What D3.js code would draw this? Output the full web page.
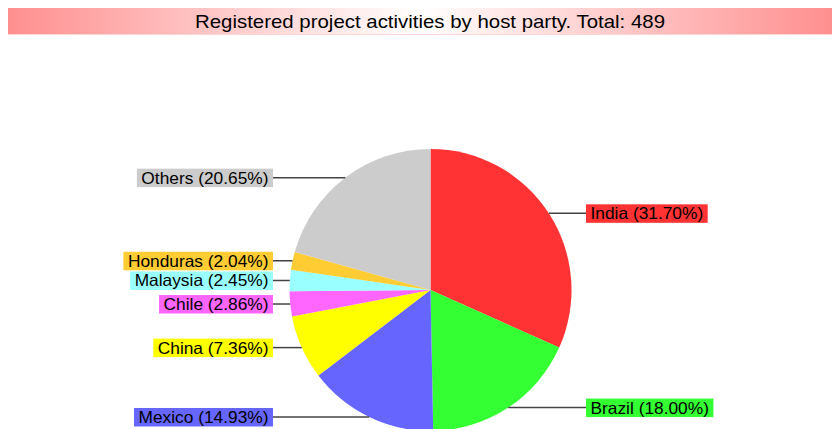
<!DOCTYPE html>
<html>
<head>
<meta charset="utf-8">
<script src="https://cdn.jsdelivr.net/npm/d3@7"></script>
<style>
  body { margin: 0; background: #fff; }
  text { font-family: "Liberation Sans", Arial, sans-serif; }
</style>
</head>
<body>
<svg id="pieChart"></svg>
<script>
// Data (counts out of 489)
const parties = ["India", "Brazil", "Mexico", "China", "Chile", "Malaysia", "Honduras", "Others"];
const counts = [155, 88, 73, 36, 14, 12, 10, 101];
const percentLabels = ["31.70%", "18.00%", "14.93%", "7.36%", "2.86%", "2.45%", "2.04%", "20.65%"];
const colors = ["#ff3333", "#33ff33", "#6666ff", "#ffff00", "#ff66ff", "#99ffff", "#ffcc33", "#cccccc"];
const total = 489;

const svgWidth = 840;
const svgHeight = 429;

const svg = d3.select("#pieChart")
  .attr("width", svgWidth)
  .attr("height", svgHeight);

// Title bar with red -> white -> red gradient
const grad = svg.append("defs").append("linearGradient")
  .attr("id", "titleGrad")
  .attr("x1", "0%").attr("x2", "100%").attr("y1", "0%").attr("y2", "0%");
grad.append("stop").attr("offset", "0%").attr("stop-color", "#ff8f8f");
grad.append("stop").attr("offset", "50%").attr("stop-color", "#ffffff");
grad.append("stop").attr("offset", "100%").attr("stop-color", "#ff8f8f");

svg.append("rect")
  .attr("x", 8).attr("y", 8)
  .attr("width", 824).attr("height", 26)
  .attr("fill", "url(#titleGrad)");
svg.append("rect")
  .attr("x", 8).attr("y", 34)
  .attr("width", 824).attr("height", 1)
  .attr("fill", "#ffd6d6");

// Title text is a little stretched in the original
const title = svg.append("text")
  .attr("x", 430)
  .attr("y", 28)
  .attr("text-anchor", "middle")
  .attr("font-size", 19)
  .attr("fill", "#000")
  .text("Registered project activities by host party. Total: " + total);
title.attr("textLength", 470).attr("lengthAdjust", "spacingAndGlyphs");

// Pie
const cx = 430.5, cy = 290, radius = 141;

const pie = d3.pie()
  .sort(null)
  .value(d => d)
  .startAngle(0)
  .endAngle(2 * Math.PI);

const arc = d3.arc()
  .innerRadius(0)
  .outerRadius(radius);

const arcs = pie(counts);

const chart = svg.append("g")
  .attr("transform", "translate(" + cx + "," + cy + ")");

chart.selectAll(".slice")
  .data(arcs)
  .enter().append("path")
  .attr("class", "slice")
  .attr("d", arc)
  .attr("fill", (d, i) => colors[i]);

// Labels with leader lines, placed at the y of each slice's mid angle
const rightEdge = 586; // left side of right labels
const leftEdge = 273;  // right side of left labels
const labels = svg.append("g");

arcs.forEach((d, i) => {
  const a = (d.startAngle + d.endAngle) / 2;
  const px = cx + radius * Math.sin(a);
  const py = cy - radius * Math.cos(a);
  const onRight = Math.sin(a) > 0;

  labels.append("line")
    .attr("x1", px).attr("y1", py)
    .attr("x2", onRight ? rightEdge : leftEdge).attr("y2", py)
    .attr("stroke", "#444")
    .attr("stroke-width", 1.5);

  const g = labels.append("g");
  const t = g.append("text")
    .attr("font-size", 16.5)
    .attr("fill", "#000")
    .attr("y", py + 6)
    .text(parties[i] + " (" + percentLabels[i] + ")");

  // stretch slightly to the width of the original labels
  const w = t.node().getComputedTextLength() * 1.05;
  t.attr("textLength", w).attr("lengthAdjust", "spacingAndGlyphs");
  const pad = 4.5;
  const boxX = onRight ? rightEdge : leftEdge - w - 2 * pad;
  t.attr("x", boxX + pad);

  g.insert("rect", "text")
    .attr("x", boxX)
    .attr("y", py - 9)
    .attr("width", w + 2 * pad)
    .attr("height", 18.5)
    .attr("fill", colors[i]);
});
</script>
</body>
</html>
